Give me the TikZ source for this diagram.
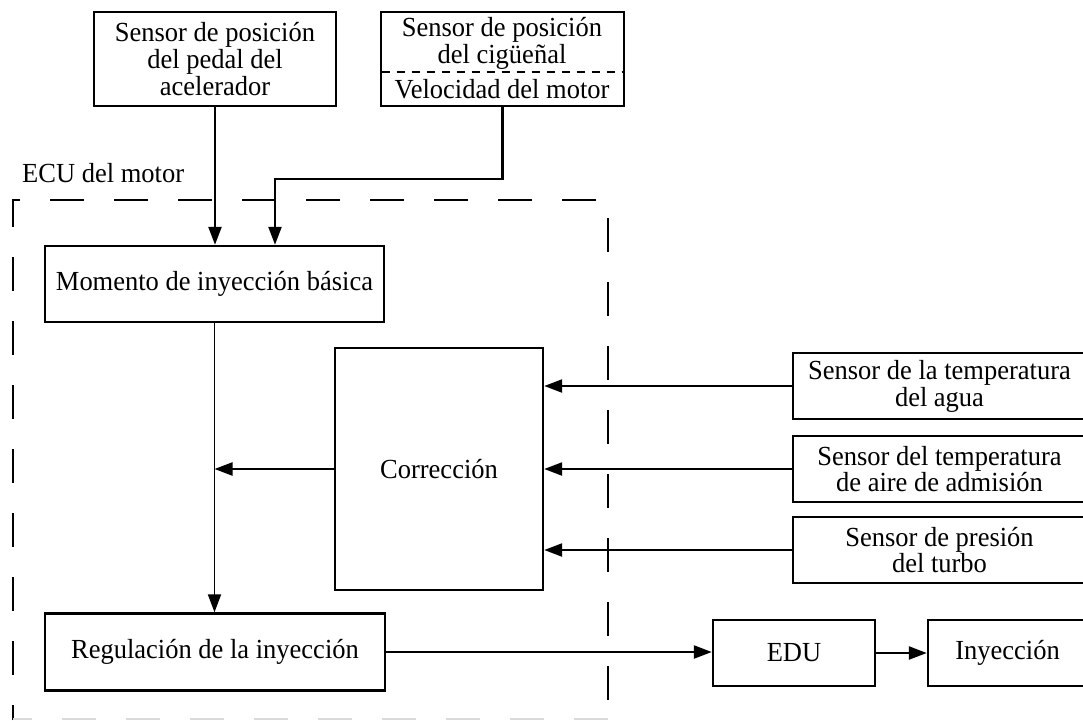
\documentclass[tikz,border=0pt]{standalone}
\usepackage{fontspec}
\setmainfont{Liberation Serif}[FakeStretch=0.96]
\usetikzlibrary{arrows.meta}
\begin{document}
\begin{tikzpicture}[x=1pt,y=-1pt,
  txt/.style={font=\fontsize{27.6}{26.8}\selectfont, align=center, inner sep=0pt},
  box/.style={txt, draw, line width=2.4pt, minimum width=#1},
  arr/.style={line width=2.3pt, -{Triangle[length=18pt,width=13pt]}},
  ecu/.style={line width=2.2pt, dash pattern=on 34pt off 30pt}]
\clip (0,0) rectangle (1083,720);
\fill[white] (0,0) rectangle (1083,720);

% sensors above the ECU
\node[box=242, minimum height=94] (pedal) at (215,59)
  {Sensor de posición\\del pedal del\\acelerador};
\node[box=243, minimum height=94] (crank) at (502.5,59) {};
\node[txt] (cranktop) at (502,43) {Sensor de posición\\del cigüeñal};
\node[txt] (crankbot) at (502,89) {Velocidad del motor};
\coordinate (divl) at (381.5,72);
\coordinate (divr) at (623.5,72);
\draw[line width=2.2pt, dash pattern=on 8pt off 7pt] (divl) -- (divr);

% ECU frame and label
\node[txt, anchor=base west] (ecutitle) at (22,182) {ECU del motor};
\draw[ecu, dash phase=19pt] (13,720) -- (13,200) -- (608,200) -- (608,720);
\draw[ecu, black!15] (608,719) -- (13,719);

% blocks inside the ECU
\node[box=339, minimum height=76] (base) at (214.5,284) {Momento de inyección básica};
\node[box=208, minimum height=242] (corr) at (439,469) {Corrección};
\node[box=340, minimum height=77] (reg) at (215,652) {Regulación de la inyección};

% correction sensors
\node[box=293, minimum height=66] (agua) at (939.5,386) {Sensor de la temperatura\\del agua};
\node[box=293, minimum height=66] (aire) at (939.5,469) {Sensor del temperatura\\de aire de admisión};
\node[box=293, minimum height=66] (turbo) at (939.5,550) {Sensor de presión\\del turbo};

% output stage
\node[box=162, minimum height=66] (edu) at (794,653) {EDU};
\node[box=159, minimum height=66] (iny) at (1007.5,653) {Inyección};

% connectors
\draw[arr] (pedal.south) -- (pedal.south |- base.north);
\coordinate (bend) at (275,179);
\draw[arr] (crank.south) |- (bend) -- (bend |- base.north);
\draw[arr, line width=1.9pt] (base.south) -- (base.south |- reg.north);
\draw[arr] (corr.west) -- (corr.west -| base.south);
\draw[arr] (agua.west) -- (agua.west -| corr.east);
\draw[arr] (aire.west) -- (aire.west -| corr.east);
\draw[arr] (turbo.west) -- (turbo.west -| corr.east);
\draw[arr] (reg.east) -- (reg.east -| edu.west);
\draw[arr] (edu.east) -- (iny.west);
\end{tikzpicture}
\end{document}
